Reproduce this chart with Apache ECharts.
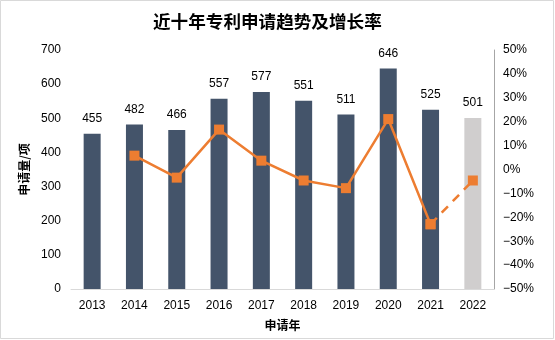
<!DOCTYPE html>
<html><head><meta charset="utf-8">
<script src="https://cdn.jsdelivr.net/npm/echarts@6/dist/echarts.min.js"></script>
<style>html,body{margin:0;padding:0;background:#fff}#c{width:555px;height:340px}</style>
</head><body><div id="c"></div>
<script>
const years = ['2013','2014','2015','2016','2017','2018','2019','2020','2021','2022'];
const applications = [455,482,466,557,577,551,511,646,525,501];
const growthSolid = [null,5.8,-3.4,16.7,3.7,-4.6,-7.8,21.1,-22.9,null];
const growthDashed = [null,null,null,null,null,null,null,null,-22.9,-4.6];
const leftTicks = [0,100,200,300,400,500,600,700];
const rightTicks = [-50,-40,-30,-20,-10,0,10,20,30,40,50];

const FONT = '"Liberation Sans", Arial, "Noto Sans CJK SC", sans-serif';
const chart = echarts.init(document.getElementById('c'), null, {renderer:'canvas'});
const barData = applications.map((v,i)=> i===applications.length-1
  ? {value:v, itemStyle:{color:'#D0CECE'}} : v);
chart.setOption({
  animation:false,
  backgroundColor:'#fff',
  textStyle:{fontFamily:FONT},
  graphic:[{type:'rect',shape:{x:0.5,y:0.5,width:553,height:338},style:{fill:'none',stroke:'#d9d9d9',lineWidth:1},silent:true}],
  title:{text:'近十年专利申请趋势及增长率',left:148,top:8,
    textStyle:{fontSize:17.6,fontWeight:'bold',color:'#000',fontFamily:'"Noto Sans CJK SC", sans-serif'}},
  grid:{left:71,right:61,top:50,bottom:51},
  xAxis:{type:'category',data:years,
    axisLine:{lineStyle:{color:'#d9d9d9'}},axisTick:{show:false},
    axisLabel:{color:'#000',fontSize:12,margin:11,fontFamily:FONT},
    name:'申请年',nameLocation:'middle',nameGap:30,
    nameTextStyle:{fontWeight:'bold',fontSize:12,color:'#000',fontFamily:'"Noto Sans CJK SC", sans-serif'}},
  yAxis:[{type:'value',min:leftTicks[0],max:leftTicks[leftTicks.length-1],interval:100,
    axisLine:{show:false},axisTick:{show:false},splitLine:{show:false},
    axisLabel:{color:'#000',fontSize:12,margin:10,fontFamily:FONT},
    name:'申请量/项',nameLocation:'middle',nameGap:40,nameRotate:90,
    nameTextStyle:{fontWeight:'bold',fontSize:12,color:'#000',fontFamily:'"Noto Sans CJK SC", sans-serif'}},
   {type:'value',min:rightTicks[0],max:rightTicks[rightTicks.length-1],interval:10,
    axisLine:{show:true,lineStyle:{color:'#a6a6a6'}},axisTick:{show:false},splitLine:{show:false},
    axisLabel:{color:'#000',fontSize:12,margin:9,fontFamily:FONT,
      formatter:v=> (v<0?'\u2212'+Math.abs(v):v)+'%'}}],
  series:[
    {type:'bar',data:barData,barWidth:17,itemStyle:{color:'#44546A'},
     label:{show:true,position:'top',distance:9,color:'#000',fontSize:12,fontFamily:FONT}},
    {type:'line',yAxisIndex:1,data:growthSolid,symbol:'rect',symbolSize:10,
     lineStyle:{color:'#ED7D31',width:2.5},itemStyle:{color:'#ED7D31'},z:5},
    {type:'line',yAxisIndex:1,data:growthDashed,symbol:'rect',symbolSize:10,
     lineStyle:{color:'#ED7D31',width:2.5,type:[9,7]},itemStyle:{color:'#ED7D31'},z:5}
  ]
});
</script></body></html>
